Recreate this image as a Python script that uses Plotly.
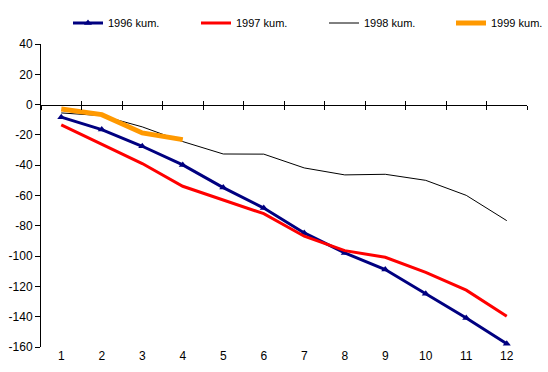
import plotly.graph_objects as go

months = [1, 2, 3, 4, 5, 6, 7, 8, 9, 10, 11, 12]
kum_1996 = [-8.3, -16.5, -27.5, -39.8, -54.8, -68.3, -84.7, -97.9, -108.9, -124.8, -140.8, -157.8]
kum_1997 = [-13.4, -26.4, -38.9, -53.9, -62.7, -72.0, -86.9, -96.4, -100.8, -110.7, -122.5, -139.7]
kum_1998 = [-5.5, -7.3, -14.7, -24.4, -32.6, -32.7, -41.8, -46.4, -46.0, -50.0, -59.9, -76.6]
kum_1999 = [-2.9, -6.6, -18.7, -23.1]
y_ticks = [40, 20, 0, -20, -40, -60, -80, -100, -120, -140, -160]
y_ticktext = [str(v) for v in y_ticks]
names = ["1996 kum.", "1997 kum.", "1998 kum.", "1999 kum."]

FONT = "Liberation Sans, Arial, sans-serif"

fig = go.Figure()
fig.add_trace(go.Scatter(x=months, y=kum_1996, name=names[0], mode="lines+markers",
                         line=dict(color="#000080", width=3), legend="legend",
                         marker=dict(symbol="triangle-up", size=7, color="#000080")))
fig.add_trace(go.Scatter(x=months, y=kum_1997, name=names[1], mode="lines",
                         line=dict(color="#FF0000", width=3), legend="legend2"))
fig.add_trace(go.Scatter(x=months, y=kum_1998, name=names[2], mode="lines",
                         line=dict(color="#000000", width=1), legend="legend3"))
fig.add_trace(go.Scatter(x=months[:len(kum_1999)], y=kum_1999, name=names[3], mode="lines",
                         line=dict(color="#FF9900", width=5), legend="legend4"))
# helper traces so the zero-line axes are drawn
for ax in ["x2", "x3"]:
    fig.add_trace(go.Scatter(x=months, y=[None] * len(months), xaxis=ax, showlegend=False,
                             hoverinfo="skip", mode="lines"))

xr = [months[0] - 0.5, months[-1] + 0.5]
bounds = [m - 0.5 for m in months] + [months[-1] + 0.5]
ymin, ymax = y_ticks[-1], y_ticks[0]
zero_pos = (0 - ymin) / (ymax - ymin)

ML, MR, MT, MB = 41, 21, 44, 25
W, H = 548, 372
PW = W - ML - MR


def legend_at(px_left):
    return dict(orientation="h", x=(px_left - ML) / PW, xanchor="left",
                y=1 - 23 / H, yanchor="middle", yref="container",
                font=dict(size=11, family=FONT), itemwidth=30,
                bgcolor="rgba(0,0,0,0)", borderwidth=0)


fig.update_layout(
    width=W, height=H,
    margin=dict(l=ML, r=MR, t=MT, b=MB, autoexpand=False),
    paper_bgcolor="white", plot_bgcolor="white",
    font=dict(family=FONT, size=12, color="black"),
    showlegend=True,
    legend=legend_at(68),
    legend2=legend_at(196),
    legend3=legend_at(324),
    legend4=legend_at(451),
    xaxis=dict(range=xr, tickmode="array", tickvals=months, ticktext=[str(m) for m in months],
               showline=False, showgrid=False, zeroline=False, ticks="",
               tickfont=dict(size=12, family=FONT)),
    xaxis2=dict(range=xr, overlaying="x", anchor="free", position=zero_pos, side="bottom",
                showline=True, linecolor="black", linewidth=1, showgrid=False, zeroline=False,
                tickmode="array", tickvals=bounds, ticks="outside", ticklen=4,
                tickcolor="black", showticklabels=False),
    xaxis3=dict(range=xr, overlaying="x", anchor="free", position=zero_pos, side="bottom",
                showline=False, showgrid=False, zeroline=False,
                tickmode="array", tickvals=bounds, ticks="inside", ticklen=4,
                tickcolor="black", showticklabels=False),
    yaxis=dict(range=[ymin, ymax], tickmode="array", tickvals=y_ticks, ticktext=y_ticktext,
               showline=True, linecolor="black", linewidth=1, ticks="outside", ticklen=5,
               tickcolor="black", showgrid=False, zeroline=False,
               tickfont=dict(size=12, family=FONT)),
)
fig.write_html("out.html")
